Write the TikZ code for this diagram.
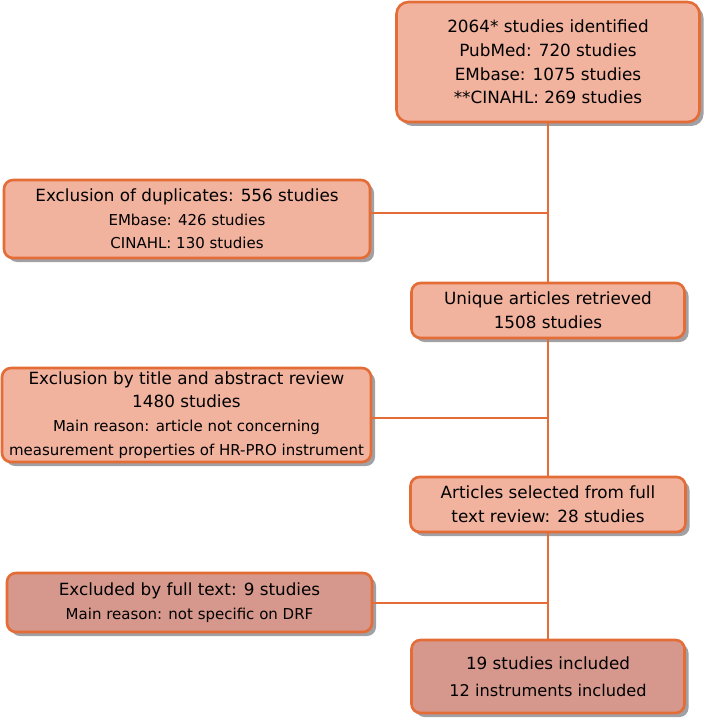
\documentclass[tikz,border=0pt]{standalone}
\usepackage{fontspec}
\setmainfont{DejaVu Sans}
\usepackage{xcolor}
\definecolor{flowfill}{RGB}{241,178,158}
\definecolor{flowdark}{RGB}{214,152,140}
\definecolor{flowedge}{RGB}{228,108,55}
\definecolor{flowshade}{RGB}{160,160,165}
\usetikzlibrary{positioning,shadows,calc}
\newcommand{\smalltext}[1]{{\fontsize{15}{20.5}\selectfont #1}}
\tikzset{
  flowbox/.style={draw=flowedge,line width=2.6pt,fill=flowfill,rounded corners=9pt,
    align=center,inner sep=1pt,font=\fontsize{16.8}{23.7}\selectfont,
    drop shadow={shadow xshift=4pt,shadow yshift=-4pt,fill=flowshade,opacity=1}},
  darkbox/.style={flowbox,fill=flowdark},
  flowline/.style={draw=flowedge,line width=2pt}
}
\begin{document}
\begin{tikzpicture}[x=1pt,y=-1pt]
  \useasboundingbox (0,0) rectangle (707,722);
  %% Boxes on the main column
  \node[flowbox,rounded corners=12pt,minimum width=303pt,minimum height=120pt] (ident) at (548,62)
    {2064* studies identified\\PubMed: 720 studies\\EMbase: 1075 studies\\**CINAHL: 269 studies};
  \node[flowbox,minimum width=273pt,minimum height=55pt] (unique) at (548,310.5)
    {Unique articles retrieved\\1508 studies};
  \node[flowbox,minimum width=275pt,minimum height=55pt] (select) at (548,504.5)
    {Articles selected from full\\text review: 28 studies};
  \node[darkbox,minimum width=273pt,minimum height=73pt] (incl) at (548,676.5)
    {19 studies included\\[3pt]{\fontsize{16.2}{20}\selectfont 12 instruments included}};
  %% Exclusion boxes on the left
  \node[flowbox,minimum width=366pt,minimum height=78pt] (dupl) at (187,219)
    {Exclusion of duplicates: 556 studies\\\smalltext{EMbase: 426 studies}\\\smalltext{CINAHL: 130 studies}};
  \node[flowbox,minimum width=369pt,minimum height=94pt] (title) at (186.5,415)
    {Exclusion by title and abstract review\\1480 studies\\\smalltext{Main reason: article not concerning}\\\smalltext{measurement properties of HR-PRO instrument}};
  \node[darkbox,minimum width=365pt,minimum height=59pt] (fulltext) at (189.5,602.5)
    {Excluded by full text: 9 studies\\\smalltext{Main reason: not specific on DRF}};
  %% Connectors
  \draw[flowline] (ident.south) -- (unique.north);
  \draw[flowline] (unique.south) -- (select.north);
  \draw[flowline] (select.south) -- (incl.north);
  \draw[flowline] ([yshift=6pt]dupl.east) -- ([yshift=6pt]dupl.east -| ident.south);
  \draw[flowline] ([yshift=-3pt]title.east) -- ([yshift=-3pt]title.east -| ident.south);
  \draw[flowline] (fulltext.east) -- (fulltext.east -| ident.south);
\end{tikzpicture}
\end{document}
